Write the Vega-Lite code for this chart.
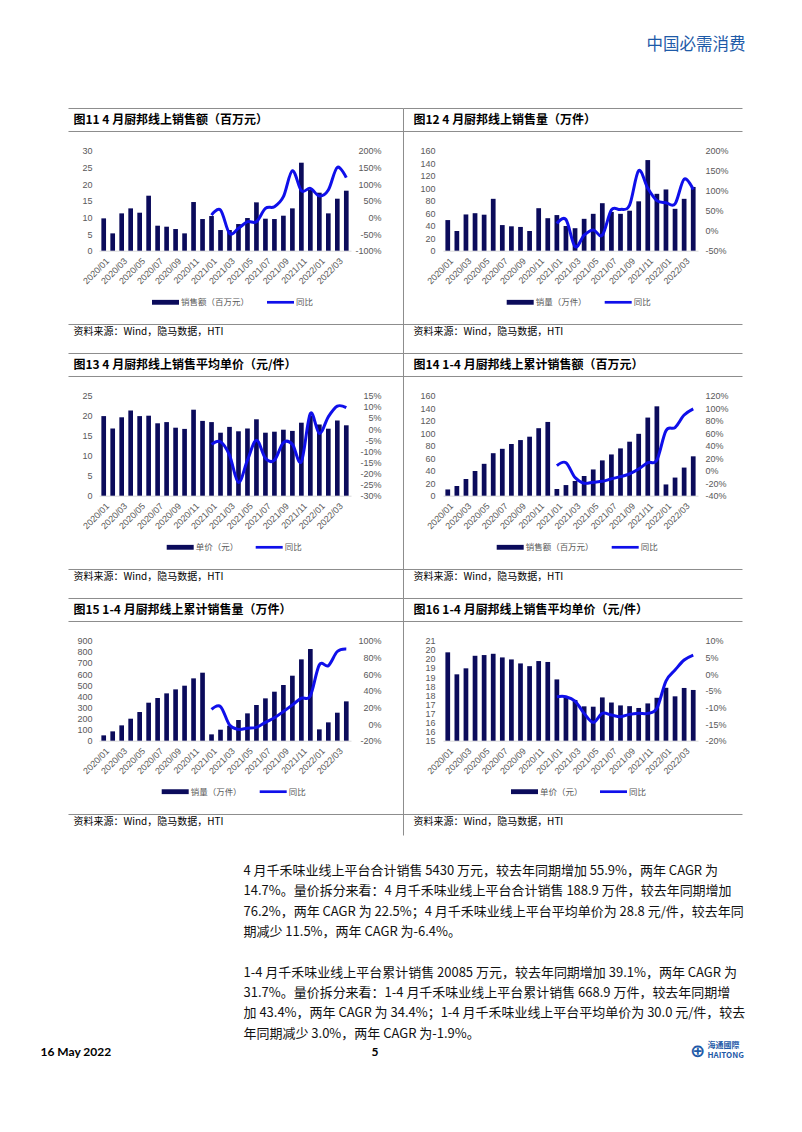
{
"$schema": "https://vega.github.io/schema/vega-lite/v6.json",
"padding": {"left": 40, "top": 4.7, "right": 0, "bottom": 0},
"columns": 2,
"bounds": "flush",
"spacing": {"row": 145, "column": 92},
"resolve": {"scale": {"color": "independent"}, "legend": {"color": "independent"}},
"config": {
  "view": {"stroke": null},
  "background": "white",
  "axis": {"labelFont": "Liberation Sans", "labelFontSize": 9, "labelColor": "#595959", "ticks": false, "domain": false, "grid": false, "titleFont": "Noto Sans CJK SC", "titleFontWeight": "normal", "titleColor": "#000000", "titlePadding": 0, "titleLimit": 2000},
  "legend": {"orient": "none", "direction": "horizontal", "symbolSize": 729, "symbolStrokeWidth": 0, "labelFont": "Noto Sans CJK SC", "labelFontSize": 8.5, "labelColor": "#595959", "labelOffset": 2, "columnPadding": 17, "padding": 0},
  "locale": {"number": {"decimal": ".", "thousands": ",", "grouping": [3], "currency": ["$", ""], "minus": "-"}}
},
"datasets": {
  "c11": [
    {"m":"2020/01","v":9.7,"y":null},{"m":"2020/02","v":5.2,"y":null},{"m":"2020/03","v":11.2,"y":null},{"m":"2020/04","v":12.7,"y":null},{"m":"2020/05","v":11.4,"y":null},{"m":"2020/06","v":16.5,"y":null},{"m":"2020/07","v":7.5,"y":null},{"m":"2020/08","v":7.2,"y":null},{"m":"2020/09","v":6.5,"y":null},{"m":"2020/10","v":5.2,"y":null},{"m":"2020/11","v":14.6,"y":null},{"m":"2020/12","v":9.5,"y":null},
    {"m":"2021/01","v":10.4,"y":0.07},{"m":"2021/02","v":6.2,"y":0.22},{"m":"2021/03","v":6.2,"y":-0.48},{"m":"2021/04","v":8.0,"y":-0.33},{"m":"2021/05","v":9.8,"y":-0.13},{"m":"2021/06","v":14.5,"y":-0.13},{"m":"2021/07","v":9.6,"y":0.27},{"m":"2021/08","v":9.5,"y":0.32},{"m":"2021/09","v":10.5,"y":0.62},{"m":"2021/10","v":12.7,"y":1.40},{"m":"2021/11","v":26.4,"y":0.80},{"m":"2021/12","v":18.2,"y":0.87},
    {"m":"2022/01","v":17.4,"y":0.64},{"m":"2022/02","v":11.2,"y":0.82},{"m":"2022/03","v":15.6,"y":1.50},{"m":"2022/04","v":18.0,"y":1.19}
  ],
  "c12": [
    {"m":"2020/01","v":49,"y":null},{"m":"2020/02","v":31.5,"y":null},{"m":"2020/03","v":58,"y":null},{"m":"2020/04","v":60,"y":null},{"m":"2020/05","v":57.6,"y":null},{"m":"2020/06","v":83,"y":null},{"m":"2020/07","v":41,"y":null},{"m":"2020/08","v":39,"y":null},{"m":"2020/09","v":38,"y":null},{"m":"2020/10","v":31.5,"y":null},{"m":"2020/11","v":68,"y":null},{"m":"2020/12","v":52,"y":null},
    {"m":"2021/01","v":57,"y":0.18},{"m":"2021/02","v":39.5,"y":0.28},{"m":"2021/03","v":36,"y":-0.40},{"m":"2021/04","v":51,"y":-0.11},{"m":"2021/05","v":59,"y":0.02},{"m":"2021/06","v":76,"y":-0.11},{"m":"2021/07","v":62,"y":0.52},{"m":"2021/08","v":59,"y":0.53},{"m":"2021/09","v":64,"y":0.64},{"m":"2021/10","v":79,"y":1.50},{"m":"2021/11","v":145,"y":1.06},{"m":"2021/12","v":91,"y":0.75},
    {"m":"2022/01","v":98,"y":0.70},{"m":"2022/02","v":67,"y":0.67},{"m":"2022/03","v":83,"y":1.29},{"m":"2022/04","v":102,"y":1.03}
  ],
  "c13": [
    {"m":"2020/01","v":19.9,"y":null},{"m":"2020/02","v":16.8,"y":null},{"m":"2020/03","v":19.6,"y":null},{"m":"2020/04","v":21.3,"y":null},{"m":"2020/05","v":19.9,"y":null},{"m":"2020/06","v":20.0,"y":null},{"m":"2020/07","v":18.1,"y":null},{"m":"2020/08","v":18.4,"y":null},{"m":"2020/09","v":17.0,"y":null},{"m":"2020/10","v":16.7,"y":null},{"m":"2020/11","v":21.5,"y":null},{"m":"2020/12","v":18.7,"y":null},
    {"m":"2021/01","v":18.4,"y":-0.069},{"m":"2021/02","v":15.75,"y":-0.057},{"m":"2021/03","v":17.2,"y":-0.117},{"m":"2021/04","v":16.1,"y":-0.24},{"m":"2021/05","v":16.8,"y":-0.14},{"m":"2021/06","v":19.1,"y":-0.05},{"m":"2021/07","v":15.75,"y":-0.132},{"m":"2021/08","v":16.0,"y":-0.14},{"m":"2021/09","v":16.5,"y":-0.061},{"m":"2021/10","v":16.2,"y":-0.069},{"m":"2021/11","v":18.25,"y":-0.147},{"m":"2021/12","v":20.0,"y":0.07},
    {"m":"2022/01","v":17.8,"y":-0.02},{"m":"2022/02","v":16.75,"y":0.055},{"m":"2022/03","v":18.8,"y":0.103},{"m":"2022/04","v":17.6,"y":0.096}
  ],
  "c14": [
    {"m":"2020/01","v":10,"y":null},{"m":"2020/02","v":15.5,"y":null},{"m":"2020/03","v":26.7,"y":null},{"m":"2020/04","v":39.5,"y":null},{"m":"2020/05","v":51,"y":null},{"m":"2020/06","v":68,"y":null},{"m":"2020/07","v":75,"y":null},{"m":"2020/08","v":82.7,"y":null},{"m":"2020/09","v":89,"y":null},{"m":"2020/10","v":94.4,"y":null},{"m":"2020/11","v":108,"y":null},{"m":"2020/12","v":118,"y":null},
    {"m":"2021/01","v":10.7,"y":0.08},{"m":"2021/02","v":17,"y":0.128},{"m":"2021/03","v":23.5,"y":-0.11},{"m":"2021/04","v":31.5,"y":-0.20},{"m":"2021/05","v":42,"y":-0.184},{"m":"2021/06","v":56.5,"y":-0.17},{"m":"2021/07","v":66,"y":-0.13},{"m":"2021/08","v":75.7,"y":-0.095},{"m":"2021/09","v":86.4,"y":-0.05},{"m":"2021/10","v":99,"y":0.026},{"m":"2021/11","v":125,"y":0.13},{"m":"2021/12","v":143,"y":0.17},
    {"m":"2022/01","v":18,"y":0.64},{"m":"2022/02","v":29,"y":0.69},{"m":"2022/03","v":45,"y":0.89},{"m":"2022/04","v":63,"y":0.99}
  ],
  "c15": [
    {"m":"2020/01","v":48,"y":null},{"m":"2020/02","v":84,"y":null},{"m":"2020/03","v":138,"y":null},{"m":"2020/04","v":198,"y":null},{"m":"2020/05","v":258,"y":null},{"m":"2020/06","v":342,"y":null},{"m":"2020/07","v":384,"y":null},{"m":"2020/08","v":426,"y":null},{"m":"2020/09","v":462,"y":null},{"m":"2020/10","v":495,"y":null},{"m":"2020/11","v":561,"y":null},{"m":"2020/12","v":612,"y":null},
    {"m":"2021/01","v":57,"y":0.176},{"m":"2021/02","v":99,"y":0.21},{"m":"2021/03","v":135,"y":-0.01},{"m":"2021/04","v":186,"y":-0.064},{"m":"2021/05","v":246,"y":-0.05},{"m":"2021/06","v":321,"y":-0.04},{"m":"2021/07","v":381,"y":0.02},{"m":"2021/08","v":441,"y":0.076},{"m":"2021/09","v":501,"y":0.15},{"m":"2021/10","v":585,"y":0.23},{"m":"2021/11","v":732,"y":0.31},{"m":"2021/12","v":825,"y":0.34},
    {"m":"2022/01","v":102,"y":0.71},{"m":"2022/02","v":165,"y":0.70},{"m":"2022/03","v":252,"y":0.87},{"m":"2022/04","v":354,"y":0.90}
  ],
  "c16": [
    {"m":"2020/01","v":19.86,"y":null},{"m":"2020/02","v":18.65,"y":null},{"m":"2020/03","v":18.98,"y":null},{"m":"2020/04","v":19.67,"y":null},{"m":"2020/05","v":19.71,"y":null},{"m":"2020/06","v":19.78,"y":null},{"m":"2020/07","v":19.58,"y":null},{"m":"2020/08","v":19.47,"y":null},{"m":"2020/09","v":19.25,"y":null},{"m":"2020/10","v":19.1,"y":null},{"m":"2020/11","v":19.38,"y":null},{"m":"2020/12","v":19.33,"y":null},
    {"m":"2021/01","v":18.37,"y":-0.068},{"m":"2021/02","v":17.35,"y":-0.068},{"m":"2021/03","v":17.24,"y":-0.081},{"m":"2021/04","v":16.89,"y":-0.118},{"m":"2021/05","v":16.87,"y":-0.145},{"m":"2021/06","v":17.38,"y":-0.118},{"m":"2021/07","v":17.1,"y":-0.123},{"m":"2021/08","v":16.94,"y":-0.128},{"m":"2021/09","v":16.9,"y":-0.121},{"m":"2021/10","v":16.8,"y":-0.118},{"m":"2021/11","v":17.05,"y":-0.118},{"m":"2021/12","v":17.36,"y":-0.103},
    {"m":"2022/01","v":17.91,"y":-0.021},{"m":"2022/02","v":17.44,"y":0.012},{"m":"2022/03","v":17.9,"y":0.042},{"m":"2022/04","v":17.79,"y":0.057}
  ]
},
"concat": [
  {"width": 252, "height": 1, "data": {"values": []}, "mark": "point"},
  {"width": 255, "height": 1, "data": {"values": []}, "mark": "point",
   "encoding": {"x": {"field": "d", "type": "quantitative", "scale": {"domain": [0, 1]},
     "axis": {"labels": false, "title": "中国必需消费", "titleX": 302, "titleY": 39.3, "titleAlign": "right", "titleBaseline": "middle", "titleFontSize": 16.5, "titleColor": "#1E5AA8"}},
     "y": {"field": "d", "type": "quantitative", "scale": {"domain": [0, 1]}, "axis": null}}},

  {"width": 252, "height": 100,
   "layer": [
     {"data": {"name": "c11"}, "mark": {"type": "bar"},
      "encoding": {
        "x": {"field": "m", "type": "ordinal", "scale": {"paddingInner": 0.48, "paddingOuter": 0.264},
              "axis": {"values": ["2020/01","2020/03","2020/05","2020/07","2020/09","2020/11","2021/01","2021/03","2021/05","2021/07","2021/09","2021/11","2022/01","2022/03"], "labelAngle": -45, "labelAlign": "right", "labelBaseline": "middle", "labelPadding": 8.5, "labelOffset": 4, "domain": true, "domainColor": "#d9d9d9", "labelOverlap": false, "title": null}},
        "y": {"field": "v", "type": "quantitative", "scale": {"domain": [0, 30]}, "axis": {"values": [0,5,10,15,20,25,30], "labelPadding": 7, "title": null}},
        "color": {"datum": "销售额（百万元）", "scale": {"domain": ["销售额（百万元）", "同比"], "range": ["#0B0B5B", "#0F0FEA"]},
          "legend": {"title": null, "legendX": 53, "legendY": 138.1,
            "encode": {"symbols": {"update": {"shape": {"signal": "datum.value === '同比' ? 'M-1,-0.1H1V0.1H-1Z' : 'M-1,-0.18H1V0.18H-1Z'"}, "fill": {"signal": "datum.value === '同比' ? '#0F0FEA' : '#0B0B5B'"}, "strokeWidth": {"value": 0}, "opacity": {"value": 1}}}}}}
      }},
     {"data": {"name": "c11"}, "mark": {"type": "line", "interpolate": "cardinal", "strokeWidth": 3},
      "encoding": {
        "x": {"field": "m", "type": "ordinal", "scale": {"domain": ["2020/01","2020/02","2020/03","2020/04","2020/05","2020/06","2020/07","2020/08","2020/09","2020/10","2020/11","2020/12","2021/01","2021/02","2021/03","2021/04","2021/05","2021/06","2021/07","2021/08","2021/09","2021/10","2021/11","2021/12","2022/01","2022/02","2022/03","2022/04"], "type": "point", "padding": 0.524}, "axis": null},
        "y": {"field": "y", "type": "quantitative", "scale": {"domain": [-1, 2]}, "axis": {"orient": "right", "values": [-1,-0.5,0,0.5,1,1.5,2], "format": ".0%", "labelAlign": "right", "labelPadding": 30, "title": null}},
        "color": {"datum": "同比"}
      }},
     {"data": {"values": []}, "mark": "point", "encoding": {"x": {"field": "d", "type": "quantitative", "scale": {"domain": [0, 1], "range": [-31, 304]}, "axis": {"orient": "top", "offset": 42.7, "domain": true, "domainColor": "#8c8c8c", "labels": false, "title": null}}, "y": {"field": "d", "type": "quantitative", "scale": {"domain": [0, 1]}, "axis": null}}},
     {"data": {"values": []}, "mark": "point", "encoding": {"x": {"field": "d", "type": "quantitative", "scale": {"domain": [0, 1], "range": [-31, 304]}, "axis": {"orient": "top", "offset": 19.7, "domain": true, "domainColor": "#8c8c8c", "labels": false, "title": "图11 4 月厨邦线上销售额（百万元）", "titleX": -26, "titleY": -11, "titleAlign": "left", "titleBaseline": "middle", "titleFontSize": 12, "titleFontWeight": "bold"}}, "y": {"field": "d", "type": "quantitative", "scale": {"domain": [0, 1]}, "axis": null}}},
     {"data": {"values": []}, "mark": "point", "encoding": {"x": {"field": "d", "type": "quantitative", "scale": {"domain": [0, 1], "range": [-31, 304]}, "axis": {"orient": "bottom", "offset": 73.3, "domain": true, "domainColor": "#8c8c8c", "labels": false, "title": "资料来源：Wind，隐马数据，HTI", "titleX": -26, "titleY": 8, "titleAlign": "left", "titleBaseline": "middle", "titleFontSize": 10}}, "y": {"field": "d", "type": "quantitative", "scale": {"domain": [0, 1]}, "axis": null}}},
     {"data": {"values": []}, "mark": "point", "encoding": {"y": {"field": "d", "type": "quantitative", "scale": {"domain": [0, 1], "range": [202.3, -42.7]}, "axis": {"orient": "right", "offset": 52, "domain": true, "domainColor": "#8c8c8c", "labels": false, "title": null}}, "x": {"field": "d", "type": "quantitative", "scale": {"domain": [0, 1]}, "axis": null}}}
   ],
   "resolve": {"scale": {"x": "independent", "y": "independent"}}},

  {"width": 255, "height": 100,
   "layer": [
     {"data": {"name": "c12"}, "mark": {"type": "bar"},
      "encoding": {
        "x": {"field": "m", "type": "ordinal", "scale": {"paddingInner": 0.48, "paddingOuter": 0.264},
              "axis": {"values": ["2020/01","2020/03","2020/05","2020/07","2020/09","2020/11","2021/01","2021/03","2021/05","2021/07","2021/09","2021/11","2022/01","2022/03"], "labelAngle": -45, "labelAlign": "right", "labelBaseline": "middle", "labelPadding": 8.5, "labelOffset": 4, "domain": true, "domainColor": "#d9d9d9", "labelOverlap": false, "title": null}},
        "y": {"field": "v", "type": "quantitative", "scale": {"domain": [0, 160]}, "axis": {"values": [0,20,40,60,80,100,120,140,160], "labelPadding": 8, "title": null}},
        "color": {"datum": "销量（万件）", "scale": {"domain": ["销量（万件）", "同比"], "range": ["#0B0B5B", "#0F0FEA"]},
          "legend": {"title": null, "legendX": 63.7, "legendY": 138.1,
            "encode": {"symbols": {"update": {"shape": {"signal": "datum.value === '同比' ? 'M-1,-0.1H1V0.1H-1Z' : 'M-1,-0.18H1V0.18H-1Z'"}, "fill": {"signal": "datum.value === '同比' ? '#0F0FEA' : '#0B0B5B'"}, "strokeWidth": {"value": 0}, "opacity": {"value": 1}}}}}}
      }},
     {"data": {"name": "c12"}, "mark": {"type": "line", "interpolate": "cardinal", "strokeWidth": 3},
      "encoding": {
        "x": {"field": "m", "type": "ordinal", "scale": {"domain": ["2020/01","2020/02","2020/03","2020/04","2020/05","2020/06","2020/07","2020/08","2020/09","2020/10","2020/11","2020/12","2021/01","2021/02","2021/03","2021/04","2021/05","2021/06","2021/07","2021/08","2021/09","2021/10","2021/11","2021/12","2022/01","2022/02","2022/03","2022/04"], "type": "point", "padding": 0.524}, "axis": null},
        "y": {"field": "y", "type": "quantitative", "scale": {"domain": [-0.5, 2]}, "axis": {"orient": "right", "values": [-0.5,0,0.5,1,1.5,2], "format": ".0%", "labelAlign": "left", "labelPadding": 7, "title": null}},
        "color": {"datum": "同比"}
      }},
     {"data": {"values": []}, "mark": "point", "encoding": {"x": {"field": "d", "type": "quantitative", "scale": {"domain": [0, 1], "range": [-40, 299]}, "axis": {"orient": "top", "offset": 42.7, "domain": true, "domainColor": "#8c8c8c", "labels": false, "title": null}}, "y": {"field": "d", "type": "quantitative", "scale": {"domain": [0, 1]}, "axis": null}}},
     {"data": {"values": []}, "mark": "point", "encoding": {"x": {"field": "d", "type": "quantitative", "scale": {"domain": [0, 1], "range": [-40, 299]}, "axis": {"orient": "top", "offset": 19.7, "domain": true, "domainColor": "#8c8c8c", "labels": false, "title": "图12 4 月厨邦线上销售量（万件）", "titleX": -30, "titleY": -11, "titleAlign": "left", "titleBaseline": "middle", "titleFontSize": 12, "titleFontWeight": "bold"}}, "y": {"field": "d", "type": "quantitative", "scale": {"domain": [0, 1]}, "axis": null}}},
     {"data": {"values": []}, "mark": "point", "encoding": {"x": {"field": "d", "type": "quantitative", "scale": {"domain": [0, 1], "range": [-40, 299]}, "axis": {"orient": "bottom", "offset": 73.3, "domain": true, "domainColor": "#8c8c8c", "labels": false, "title": "资料来源：Wind，隐马数据，HTI", "titleX": -30, "titleY": 8, "titleAlign": "left", "titleBaseline": "middle", "titleFontSize": 10}}, "y": {"field": "d", "type": "quantitative", "scale": {"domain": [0, 1]}, "axis": null}}}
   ],
   "resolve": {"scale": {"x": "independent", "y": "independent"}}},

  {"width": 252, "height": 100,
   "layer": [
     {"data": {"name": "c13"}, "mark": {"type": "bar"},
      "encoding": {
        "x": {"field": "m", "type": "ordinal", "scale": {"paddingInner": 0.48, "paddingOuter": 0.264},
              "axis": {"values": ["2020/01","2020/03","2020/05","2020/07","2020/09","2020/11","2021/01","2021/03","2021/05","2021/07","2021/09","2021/11","2022/01","2022/03"], "labelAngle": -45, "labelAlign": "right", "labelBaseline": "middle", "labelPadding": 8.5, "labelOffset": 4, "domain": true, "domainColor": "#d9d9d9", "labelOverlap": false, "title": null}},
        "y": {"field": "v", "type": "quantitative", "scale": {"domain": [0, 25]}, "axis": {"values": [0,5,10,15,20,25], "labelPadding": 7, "title": null}},
        "color": {"datum": "单价（元）", "scale": {"domain": ["单价（元）", "同比"], "range": ["#0B0B5B", "#0F0FEA"]},
          "legend": {"title": null, "legendX": 67.7, "legendY": 138.1,
            "encode": {"symbols": {"update": {"shape": {"signal": "datum.value === '同比' ? 'M-1,-0.1H1V0.1H-1Z' : 'M-1,-0.18H1V0.18H-1Z'"}, "fill": {"signal": "datum.value === '同比' ? '#0F0FEA' : '#0B0B5B'"}, "strokeWidth": {"value": 0}, "opacity": {"value": 1}}}}}}
      }},
     {"data": {"name": "c13"}, "mark": {"type": "line", "interpolate": "cardinal", "strokeWidth": 3},
      "encoding": {
        "x": {"field": "m", "type": "ordinal", "scale": {"domain": ["2020/01","2020/02","2020/03","2020/04","2020/05","2020/06","2020/07","2020/08","2020/09","2020/10","2020/11","2020/12","2021/01","2021/02","2021/03","2021/04","2021/05","2021/06","2021/07","2021/08","2021/09","2021/10","2021/11","2021/12","2022/01","2022/02","2022/03","2022/04"], "type": "point", "padding": 0.524}, "axis": null},
        "y": {"field": "y", "type": "quantitative", "scale": {"domain": [-0.3, 0.15]}, "axis": {"orient": "right", "values": [-0.3,-0.25,-0.2,-0.15,-0.1,-0.05,0,0.05,0.1,0.15], "format": ".0%", "labelAlign": "right", "labelPadding": 30, "title": null}},
        "color": {"datum": "同比"}
      }},
     {"data": {"values": []}, "mark": "point", "encoding": {"x": {"field": "d", "type": "quantitative", "scale": {"domain": [0, 1], "range": [-31, 304]}, "axis": {"orient": "top", "offset": 42.7, "domain": true, "domainColor": "#8c8c8c", "labels": false, "title": null}}, "y": {"field": "d", "type": "quantitative", "scale": {"domain": [0, 1]}, "axis": null}}},
     {"data": {"values": []}, "mark": "point", "encoding": {"x": {"field": "d", "type": "quantitative", "scale": {"domain": [0, 1], "range": [-31, 304]}, "axis": {"orient": "top", "offset": 19.7, "domain": true, "domainColor": "#8c8c8c", "labels": false, "title": "图13 4 月厨邦线上销售平均单价（元/件）", "titleX": -26, "titleY": -11, "titleAlign": "left", "titleBaseline": "middle", "titleFontSize": 12, "titleFontWeight": "bold"}}, "y": {"field": "d", "type": "quantitative", "scale": {"domain": [0, 1]}, "axis": null}}},
     {"data": {"values": []}, "mark": "point", "encoding": {"x": {"field": "d", "type": "quantitative", "scale": {"domain": [0, 1], "range": [-31, 304]}, "axis": {"orient": "bottom", "offset": 73.3, "domain": true, "domainColor": "#8c8c8c", "labels": false, "title": "资料来源：Wind，隐马数据，HTI", "titleX": -26, "titleY": 8, "titleAlign": "left", "titleBaseline": "middle", "titleFontSize": 10}}, "y": {"field": "d", "type": "quantitative", "scale": {"domain": [0, 1]}, "axis": null}}},
     {"data": {"values": []}, "mark": "point", "encoding": {"y": {"field": "d", "type": "quantitative", "scale": {"domain": [0, 1], "range": [202.3, -42.7]}, "axis": {"orient": "right", "offset": 52, "domain": true, "domainColor": "#8c8c8c", "labels": false, "title": null}}, "x": {"field": "d", "type": "quantitative", "scale": {"domain": [0, 1]}, "axis": null}}}
   ],
   "resolve": {"scale": {"x": "independent", "y": "independent"}}},

  {"width": 255, "height": 100,
   "layer": [
     {"data": {"name": "c14"}, "mark": {"type": "bar"},
      "encoding": {
        "x": {"field": "m", "type": "ordinal", "scale": {"paddingInner": 0.48, "paddingOuter": 0.264},
              "axis": {"values": ["2020/01","2020/03","2020/05","2020/07","2020/09","2020/11","2021/01","2021/03","2021/05","2021/07","2021/09","2021/11","2022/01","2022/03"], "labelAngle": -45, "labelAlign": "right", "labelBaseline": "middle", "labelPadding": 8.5, "labelOffset": 4, "domain": true, "domainColor": "#d9d9d9", "labelOverlap": false, "title": null}},
        "y": {"field": "v", "type": "quantitative", "scale": {"domain": [0, 160]}, "axis": {"values": [0,20,40,60,80,100,120,140,160], "labelPadding": 8, "title": null}},
        "color": {"datum": "销售额（百万元）", "scale": {"domain": ["销售额（百万元）", "同比"], "range": ["#0B0B5B", "#0F0FEA"]},
          "legend": {"title": null, "legendX": 53.7, "legendY": 138.1,
            "encode": {"symbols": {"update": {"shape": {"signal": "datum.value === '同比' ? 'M-1,-0.1H1V0.1H-1Z' : 'M-1,-0.18H1V0.18H-1Z'"}, "fill": {"signal": "datum.value === '同比' ? '#0F0FEA' : '#0B0B5B'"}, "strokeWidth": {"value": 0}, "opacity": {"value": 1}}}}}}
      }},
     {"data": {"name": "c14"}, "mark": {"type": "line", "interpolate": "cardinal", "strokeWidth": 3},
      "encoding": {
        "x": {"field": "m", "type": "ordinal", "scale": {"domain": ["2020/01","2020/02","2020/03","2020/04","2020/05","2020/06","2020/07","2020/08","2020/09","2020/10","2020/11","2020/12","2021/01","2021/02","2021/03","2021/04","2021/05","2021/06","2021/07","2021/08","2021/09","2021/10","2021/11","2021/12","2022/01","2022/02","2022/03","2022/04"], "type": "point", "padding": 0.524}, "axis": null},
        "y": {"field": "y", "type": "quantitative", "scale": {"domain": [-0.4, 1.2]}, "axis": {"orient": "right", "values": [-0.4,-0.2,0,0.2,0.4,0.6,0.8,1,1.2], "format": ".0%", "labelAlign": "left", "labelPadding": 7, "title": null}},
        "color": {"datum": "同比"}
      }},
     {"data": {"values": []}, "mark": "point", "encoding": {"x": {"field": "d", "type": "quantitative", "scale": {"domain": [0, 1], "range": [-40, 299]}, "axis": {"orient": "top", "offset": 42.7, "domain": true, "domainColor": "#8c8c8c", "labels": false, "title": null}}, "y": {"field": "d", "type": "quantitative", "scale": {"domain": [0, 1]}, "axis": null}}},
     {"data": {"values": []}, "mark": "point", "encoding": {"x": {"field": "d", "type": "quantitative", "scale": {"domain": [0, 1], "range": [-40, 299]}, "axis": {"orient": "top", "offset": 19.7, "domain": true, "domainColor": "#8c8c8c", "labels": false, "title": "图14 1-4 月厨邦线上累计销售额（百万元）", "titleX": -30, "titleY": -11, "titleAlign": "left", "titleBaseline": "middle", "titleFontSize": 12, "titleFontWeight": "bold"}}, "y": {"field": "d", "type": "quantitative", "scale": {"domain": [0, 1]}, "axis": null}}},
     {"data": {"values": []}, "mark": "point", "encoding": {"x": {"field": "d", "type": "quantitative", "scale": {"domain": [0, 1], "range": [-40, 299]}, "axis": {"orient": "bottom", "offset": 73.3, "domain": true, "domainColor": "#8c8c8c", "labels": false, "title": "资料来源：Wind，隐马数据，HTI", "titleX": -30, "titleY": 8, "titleAlign": "left", "titleBaseline": "middle", "titleFontSize": 10}}, "y": {"field": "d", "type": "quantitative", "scale": {"domain": [0, 1]}, "axis": null}}}
   ],
   "resolve": {"scale": {"x": "independent", "y": "independent"}}},

  {"width": 252, "height": 100,
   "layer": [
     {"data": {"name": "c15"}, "mark": {"type": "bar"},
      "encoding": {
        "x": {"field": "m", "type": "ordinal", "scale": {"paddingInner": 0.48, "paddingOuter": 0.264},
              "axis": {"values": ["2020/01","2020/03","2020/05","2020/07","2020/09","2020/11","2021/01","2021/03","2021/05","2021/07","2021/09","2021/11","2022/01","2022/03"], "labelAngle": -45, "labelAlign": "right", "labelBaseline": "middle", "labelPadding": 8.5, "labelOffset": 4, "domain": true, "domainColor": "#d9d9d9", "labelOverlap": false, "title": null}},
        "y": {"field": "v", "type": "quantitative", "scale": {"domain": [0, 900]}, "axis": {"values": [0,100,200,300,400,500,600,700,800,900], "labelPadding": 7, "title": null}},
        "color": {"datum": "销量（万件）", "scale": {"domain": ["销量（万件）", "同比"], "range": ["#0B0B5B", "#0F0FEA"]},
          "legend": {"title": null, "legendX": 62.7, "legendY": 137.5,
            "encode": {"symbols": {"update": {"shape": {"signal": "datum.value === '同比' ? 'M-1,-0.1H1V0.1H-1Z' : 'M-1,-0.18H1V0.18H-1Z'"}, "fill": {"signal": "datum.value === '同比' ? '#0F0FEA' : '#0B0B5B'"}, "strokeWidth": {"value": 0}, "opacity": {"value": 1}}}}}}
      }},
     {"data": {"name": "c15"}, "mark": {"type": "line", "interpolate": "cardinal", "strokeWidth": 3},
      "encoding": {
        "x": {"field": "m", "type": "ordinal", "scale": {"domain": ["2020/01","2020/02","2020/03","2020/04","2020/05","2020/06","2020/07","2020/08","2020/09","2020/10","2020/11","2020/12","2021/01","2021/02","2021/03","2021/04","2021/05","2021/06","2021/07","2021/08","2021/09","2021/10","2021/11","2021/12","2022/01","2022/02","2022/03","2022/04"], "type": "point", "padding": 0.524}, "axis": null},
        "y": {"field": "y", "type": "quantitative", "scale": {"domain": [-0.2, 1]}, "axis": {"orient": "right", "values": [-0.2,0,0.2,0.4,0.6,0.8,1], "format": ".0%", "labelAlign": "right", "labelPadding": 30, "title": null}},
        "color": {"datum": "同比"}
      }},
     {"data": {"values": []}, "mark": "point", "encoding": {"x": {"field": "d", "type": "quantitative", "scale": {"domain": [0, 1], "range": [-31, 304]}, "axis": {"orient": "top", "offset": 42.7, "domain": true, "domainColor": "#8c8c8c", "labels": false, "title": null}}, "y": {"field": "d", "type": "quantitative", "scale": {"domain": [0, 1]}, "axis": null}}},
     {"data": {"values": []}, "mark": "point", "encoding": {"x": {"field": "d", "type": "quantitative", "scale": {"domain": [0, 1], "range": [-31, 304]}, "axis": {"orient": "top", "offset": 19.7, "domain": true, "domainColor": "#8c8c8c", "labels": false, "title": "图15 1-4 月厨邦线上累计销售量（万件）", "titleX": -26, "titleY": -11, "titleAlign": "left", "titleBaseline": "middle", "titleFontSize": 12, "titleFontWeight": "bold"}}, "y": {"field": "d", "type": "quantitative", "scale": {"domain": [0, 1]}, "axis": null}}},
     {"data": {"values": []}, "mark": "point", "encoding": {"x": {"field": "d", "type": "quantitative", "scale": {"domain": [0, 1], "range": [-31, 304]}, "axis": {"orient": "bottom", "offset": 73.3, "domain": true, "domainColor": "#8c8c8c", "labels": false, "title": "资料来源：Wind，隐马数据，HTI", "titleX": -26, "titleY": 8, "titleAlign": "left", "titleBaseline": "middle", "titleFontSize": 10}}, "y": {"field": "d", "type": "quantitative", "scale": {"domain": [0, 1]}, "axis": null}}},
     {"data": {"values": []}, "mark": "point", "encoding": {"y": {"field": "d", "type": "quantitative", "scale": {"domain": [0, 1], "range": [194.3, -42.7]}, "axis": {"orient": "right", "offset": 52, "domain": true, "domainColor": "#8c8c8c", "labels": false, "title": null}}, "x": {"field": "d", "type": "quantitative", "scale": {"domain": [0, 1]}, "axis": null}}}
   ],
   "resolve": {"scale": {"x": "independent", "y": "independent"}}},

  {"width": 255, "height": 100,
   "layer": [
     {"data": {"name": "c16"}, "mark": {"type": "bar"},
      "encoding": {
        "x": {"field": "m", "type": "ordinal", "scale": {"paddingInner": 0.48, "paddingOuter": 0.264},
              "axis": {"values": ["2020/01","2020/03","2020/05","2020/07","2020/09","2020/11","2021/01","2021/03","2021/05","2021/07","2021/09","2021/11","2022/01","2022/03"], "labelAngle": -45, "labelAlign": "right", "labelBaseline": "middle", "labelPadding": 8.5, "labelOffset": 4, "domain": true, "domainColor": "#d9d9d9", "labelOverlap": false, "title": null}},
        "y": {"field": "v", "type": "quantitative", "scale": {"domain": [15, 20.5], "zero": false, "clamp": true}, "axis": {"values": [15,15.5,16,16.5,17,17.5,18,18.5,19,19.5,20,20.5], "format": ".0f", "labelPadding": 8, "title": null}},
        "color": {"datum": "单价（元）", "scale": {"domain": ["单价（元）", "同比"], "range": ["#0B0B5B", "#0F0FEA"]},
          "legend": {"title": null, "legendX": 68, "legendY": 137.5,
            "encode": {"symbols": {"update": {"shape": {"signal": "datum.value === '同比' ? 'M-1,-0.1H1V0.1H-1Z' : 'M-1,-0.18H1V0.18H-1Z'"}, "fill": {"signal": "datum.value === '同比' ? '#0F0FEA' : '#0B0B5B'"}, "strokeWidth": {"value": 0}, "opacity": {"value": 1}}}}}}
      }},
     {"data": {"name": "c16"}, "mark": {"type": "line", "interpolate": "cardinal", "strokeWidth": 3},
      "encoding": {
        "x": {"field": "m", "type": "ordinal", "scale": {"domain": ["2020/01","2020/02","2020/03","2020/04","2020/05","2020/06","2020/07","2020/08","2020/09","2020/10","2020/11","2020/12","2021/01","2021/02","2021/03","2021/04","2021/05","2021/06","2021/07","2021/08","2021/09","2021/10","2021/11","2021/12","2022/01","2022/02","2022/03","2022/04"], "type": "point", "padding": 0.524}, "axis": null},
        "y": {"field": "y", "type": "quantitative", "scale": {"domain": [-0.2, 0.1]}, "axis": {"orient": "right", "values": [-0.2,-0.15,-0.1,-0.05,0,0.05,0.1], "format": ".0%", "labelAlign": "left", "labelPadding": 7, "title": null}},
        "color": {"datum": "同比"}
      }},
     {"data": {"values": []}, "mark": "point", "encoding": {"x": {"field": "d", "type": "quantitative", "scale": {"domain": [0, 1], "range": [-40, 299]}, "axis": {"orient": "top", "offset": 42.7, "domain": true, "domainColor": "#8c8c8c", "labels": false, "title": null}}, "y": {"field": "d", "type": "quantitative", "scale": {"domain": [0, 1]}, "axis": null}}},
     {"data": {"values": []}, "mark": "point", "encoding": {"x": {"field": "d", "type": "quantitative", "scale": {"domain": [0, 1], "range": [-40, 299]}, "axis": {"orient": "top", "offset": 19.7, "domain": true, "domainColor": "#8c8c8c", "labels": false, "title": "图16 1-4 月厨邦线上销售平均单价（元/件）", "titleX": -30, "titleY": -11, "titleAlign": "left", "titleBaseline": "middle", "titleFontSize": 12, "titleFontWeight": "bold"}}, "y": {"field": "d", "type": "quantitative", "scale": {"domain": [0, 1]}, "axis": null}}},
     {"data": {"values": []}, "mark": "point", "encoding": {"x": {"field": "d", "type": "quantitative", "scale": {"domain": [0, 1], "range": [-40, 299]}, "axis": {"orient": "bottom", "offset": 73.3, "domain": true, "domainColor": "#8c8c8c", "labels": false, "title": "资料来源：Wind，隐马数据，HTI", "titleX": -30, "titleY": 8, "titleAlign": "left", "titleBaseline": "middle", "titleFontSize": 10}}, "y": {"field": "d", "type": "quantitative", "scale": {"domain": [0, 1]}, "axis": null}}}
   ],
   "resolve": {"scale": {"x": "independent", "y": "independent"}}},

  {"width": 252, "height": 1, "data": {"values": []}, "mark": "point",
   "encoding": {
     "x": {"field": "d", "type": "quantitative", "scale": {"domain": [0, 1]},
       "axis": {"labels": false, "titleX": 144, "titleY": -22, "titleAlign": "left", "titleBaseline": "top", "titleFontSize": 13, "titleLineHeight": 20.3, "titleColor": "#111111",
         "title": ["4 月千禾味业线上平台合计销售 5430 万元，较去年同期增加 55.9%，两年 CAGR 为", "14.7%。量价拆分来看：4 月千禾味业线上平台合计销售 188.9 万件，较去年同期增加", "76.2%，两年 CAGR 为 22.5%；4 月千禾味业线上平台平均单价为 28.8 元/件，较去年同", "期减少 11.5%，两年 CAGR 为-6.4%。"]}},
     "y": {"field": "e", "type": "quantitative", "scale": {"domain": [0, 1]},
       "axis": {"labels": false, "titleX": 144, "titleY": 80.5, "titleAngle": 0, "titleAlign": "left", "titleBaseline": "top", "titleFontSize": 13, "titleLineHeight": 20.3, "titleColor": "#111111",
         "title": ["1-4 月千禾味业线上平台累计销售 20085 万元，较去年同期增加 39.1%，两年 CAGR 为", "31.7%。量价拆分来看：1-4 月千禾味业线上平台累计销售 668.9 万件，较去年同期增", "加 43.4%，两年 CAGR 为 34.4%；1-4 月千禾味业线上平台平均单价为 30.0 元/件，较去", "年同期减少 3.0%，两年 CAGR 为-1.9%。"]}}}},
  {"width": 255, "height": 1, "data": {"values": []}, "mark": "point"},

  {"width": 252, "height": 1, "data": {"values": []}, "mark": "point",
   "encoding": {
     "x": {"field": "d", "type": "quantitative", "scale": {"domain": [0, 1]},
       "axis": {"labels": false, "title": "16 May 2022", "titleX": -59, "titleY": 19.3, "titleAlign": "left", "titleBaseline": "middle", "titleFont": "Lato", "titleFontSize": 12, "titleFontWeight": "bold"}},
     "y": {"field": "e", "type": "quantitative", "scale": {"domain": [0, 1]},
       "axis": {"labels": false, "title": "5", "titleX": 272, "titleY": 20.3, "titleAngle": 0, "titleAlign": "left", "titleBaseline": "middle", "titleFont": "Lato", "titleFontSize": 12, "titleFontWeight": "bold"}}}},
  {"width": 255, "height": 1, "data": {"values": []}, "mark": "point",
   "encoding": {
     "x": {"field": "d", "type": "quantitative", "scale": {"domain": [0, 1]},
       "axis": {"labels": false, "title": ["海通國際", "HAITONG"], "titleX": 264, "titleY": 9.3, "titleAlign": "left", "titleBaseline": "top", "titleFontSize": 8, "titleLineHeight": 9.5, "titleFontWeight": "bold", "titleColor": "#1E5AA8"}},
     "y": {"field": "e", "type": "quantitative", "scale": {"domain": [0, 1]},
       "axis": {"labels": false, "title": "⊕", "titleX": 254, "titleY": 20.3, "titleAngle": 0, "titleAlign": "center", "titleBaseline": "middle", "titleFont": "DejaVu Sans", "titleFontSize": 18, "titleFontWeight": "bold", "titleColor": "#1E5AA8"}}}}
]
}
